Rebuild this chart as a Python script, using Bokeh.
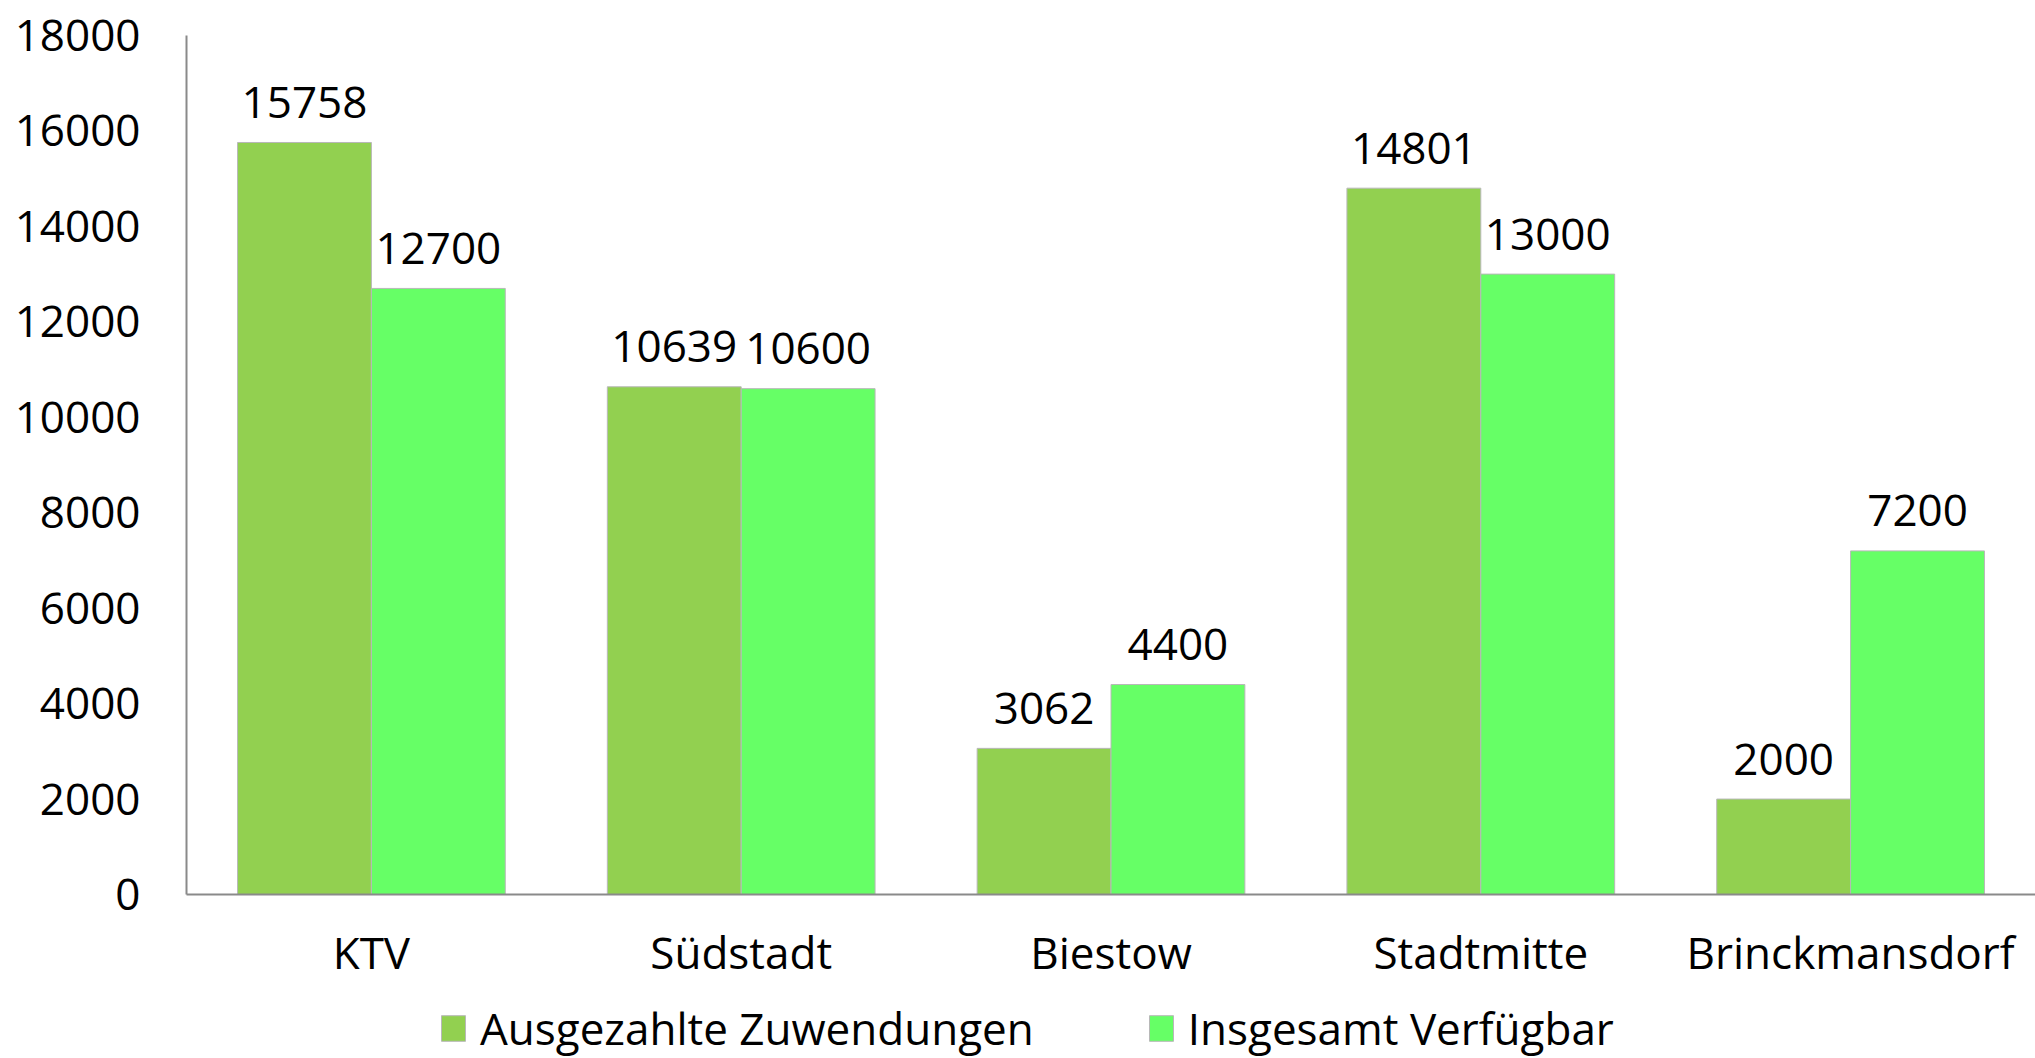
from bokeh.plotting import figure
from bokeh.layouts import column
from bokeh.models import FactorRange, Range1d, FixedTicker, Legend, LegendItem, ColumnDataSource
from bokeh.transform import dodge
from bokeh.core.properties import value
from bokeh.embed import file_html
from bokeh.resources import INLINE

districts = ["KTV", "Südstadt", "Biestow", "Stadtmitte", "Brinckmansdorf"]
ausgezahlt = [15758, 10639, 3062, 14801, 2000]
verfuegbar = [12700, 10600, 4400, 13000, 7200]
y_ticks = [0, 2000, 4000, 6000, 8000, 10000, 12000, 14000, 16000, 18000]
series_names = ["Ausgezahlte Zuwendungen", "Insgesamt Verfügbar"]
colors = ["#92D050", "#66FF66"]

FONT = "Open Sans"
FS = "44px"
EDGE = "#b8b8b8"

src = ColumnDataSource(dict(
    cat=districts,
    a=ausgezahlt,
    v=verfuegbar,
    a_txt=[str(x) for x in ausgezahlt],
    v_txt=[str(x) for x in verfuegbar],
))

p = figure(
    x_range=FactorRange(*districts, range_padding=0),
    y_range=Range1d(0, 18000),
    frame_width=1849, frame_height=859,
    output_backend="svg", toolbar_location=None,
    min_border_left=186, min_border_right=0, min_border_top=35, min_border_bottom=0,
)

bw = 0.362
off = 0.181
p.vbar(x=dodge("cat", -off, range=p.x_range), top="a", width=bw, source=src,
       fill_color=colors[0], line_color=EDGE, line_width=1)
p.vbar(x=dodge("cat", off, range=p.x_range), top="v", width=bw, source=src,
       fill_color=colors[1], line_color=EDGE, line_width=1)

for fld, o in (("a", -off), ("v", off)):
    p.text(x=dodge("cat", o, range=p.x_range), y=fld, text=fld + "_txt", source=src,
           text_align="center", text_baseline="alphabetic", y_offset=-40,
           text_font=value(FONT), text_font_size=FS, text_color="#000000")

p.xgrid.grid_line_color = None
p.ygrid.grid_line_color = None
p.outline_line_color = None

p.yaxis.ticker = FixedTicker(ticks=y_ticks)
for ax in (p.xaxis[0], p.yaxis[0]):
    ax.axis_line_color = "#8a8a8a"
    ax.axis_line_width = 2
    ax.major_tick_in = 0
    ax.major_tick_out = 0
    ax.minor_tick_in = 0
    ax.minor_tick_out = 0
    ax.major_label_text_font = FONT
    ax.major_label_text_font_size = FS
    ax.major_label_text_color = "#000000"
p.yaxis.major_label_standoff = 46
p.xaxis.major_label_standoff = 27

# legend strip below the chart (its swatch renderers sit outside the visible range)
lg = figure(
    x_range=Range1d(0, 1), y_range=Range1d(0, 1),
    width=2035, height=74,
    x_axis_type=None, y_axis_type=None,
    output_backend="svg", toolbar_location=None,
    min_border_left=0, min_border_right=0, min_border_top=0, min_border_bottom=0,
)
lg.xgrid.grid_line_color = None
lg.ygrid.grid_line_color = None
lg.outline_line_color = None
d1 = lg.vbar(x=[5], top=[5], width=0.1, fill_color=colors[0], line_color=EDGE)
d2 = lg.vbar(x=[5], top=[5], width=0.1, fill_color=colors[1], line_color=EDGE)

legend = Legend(
    items=[LegendItem(label=series_names[0], renderers=[d1]),
           LegendItem(label=series_names[1], renderers=[d2])],
    orientation="horizontal",
    location=(252, 0),
    glyph_width=30, glyph_height=32,
    label_standoff=12, spacing=112,
    padding=0, margin=0,
    border_line_color=None, background_fill_alpha=0,
    label_text_font=FONT, label_text_font_size=FS, label_text_color="#000000",
)
lg.add_layout(legend, "center")

layout = column(p, lg, spacing=0)
open("out.html", "w").write(file_html(layout, INLINE))
